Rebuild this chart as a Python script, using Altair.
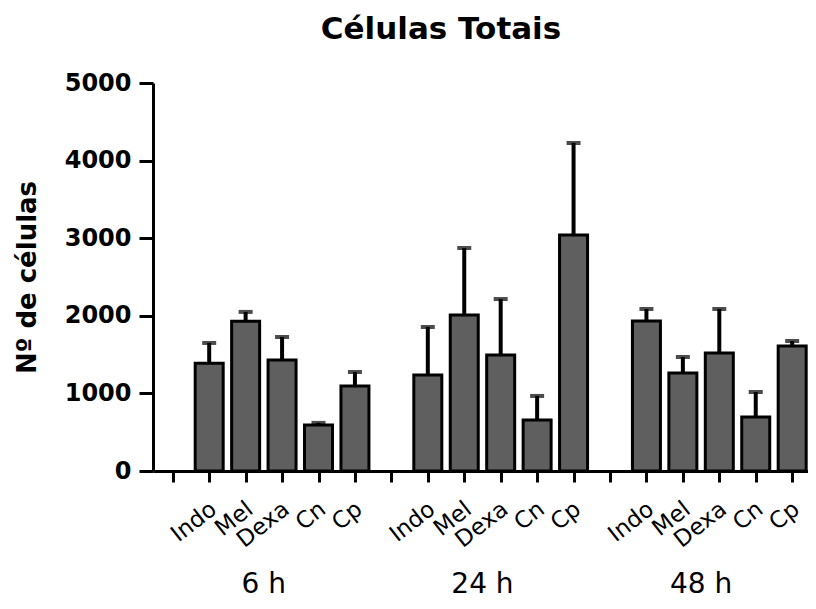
import json
import altair as alt
import pandas as pd

groups = ["6 h", "24 h", "48 h"]
treatments = ["Indo", "Mel", "Dexa", "Cn", "Cp"]
means_6h = [1390, 1930, 1430, 593, 1095]
errs_6h = [260, 120, 297, 27, 181]
means_24h = [1237, 2010, 1495, 657, 3041]
errs_24h = [619, 864, 721, 310, 1186]
means_48h = [1933, 1263, 1521, 696, 1611]
errs_48h = [155, 206, 567, 322, 64]
y_ticks = [0, 1000, 2000, 3000, 4000, 5000]
title_text = ["Células Totais"]

rows = []
for g, (m, e) in enumerate(zip([means_6h, means_24h, means_48h],
                               [errs_6h, errs_24h, errs_48h])):
    for t, name in enumerate(treatments):
        rows.append({"group": groups[g], "treatment": name,
                     "slot": g * 6 + t + 1, "mean": m[t], "top": m[t] + e[t]})
df = pd.DataFrame(rows)
grp_df = pd.DataFrame({"group": groups,
                       "center": [g * 6 + 2.5 for g in range(len(groups))]})
title_df = pd.DataFrame({"title": title_text})

W, H = 655, 388
x_scale = alt.Scale(domain=[-0.405, 17.297], nice=False, zero=False)
y_scale = alt.Scale(domain=[0, 5000], nice=False)

label_list = json.dumps([""] + treatments)
x_axis = alt.Axis(values=list(range(18)), labelExpr=f"{label_list}[datum.value % 6]",
                  labelAngle=-38, labelAlign="right", labelBaseline="middle",
                  labelPadding=24, labelOffset=4, labelOverlap=False, labelFlush=False,
                  labelBound=False,
                  labelFont="DejaVu Sans", labelFontSize=23, labelColor="black",
                  tickSize=11, tickWidth=3, tickColor="black",
                  domainWidth=3, domainColor="black", grid=False, title=None)
y_axis = alt.Axis(values=y_ticks, format="d", tickSize=14, tickWidth=3, tickColor="black",
                  domainWidth=3, domainColor="black", grid=False,
                  labelFont="DejaVu Sans", labelFontSize=24, labelFontWeight="bold",
                  labelColor="black", labelPadding=8, labelOverlap=False, labelFlush=False,
                  title="Nº de células", titleFont="DejaVu Sans", titleFontSize=26,
                  titleFontWeight="bold", titleColor="black", titleAngle=-90,
                  titleBaseline="alphabetic", titleAlign="center", titleX=-118, titleY=H / 2)

base = alt.Chart(df)
bars = base.mark_bar(size=28, fill="#5f5f5f", stroke="black", strokeWidth=3).encode(
    x=alt.X("slot:Q", scale=x_scale, axis=x_axis),
    y=alt.Y("mean:Q", scale=y_scale, axis=y_axis),
)
err = base.mark_rule(strokeWidth=4, color="black").encode(
    x=alt.X("slot:Q", scale=x_scale, axis=x_axis),
    y=alt.Y("mean:Q", scale=y_scale, axis=y_axis), y2="top:Q")
caps = base.mark_tick(orient="horizontal", size=14, thickness=4, color="black").encode(
    x=alt.X("slot:Q", scale=x_scale, axis=x_axis),
    y=alt.Y("top:Q", scale=y_scale, axis=y_axis))
glabels = alt.Chart(grp_df).mark_text(font="DejaVu Sans", fontSize=28, baseline="alphabetic",
                                      align="center", color="black").encode(
    x=alt.X("center:Q", scale=x_scale, axis=x_axis), y=alt.value(H + 122), text="group:N")
title = alt.Chart(title_df).mark_text(font="DejaVu Sans", fontSize=31, fontWeight="bold",
                                      baseline="alphabetic", align="center",
                                      color="black").encode(
    x=alt.value(288), y=alt.value(-44), text="title:N")

chart = alt.layer(bars, err, caps, glabels, title).properties(
    width=W, height=H,
    autosize=alt.AutoSizeParams(type="none"),
    padding={"left": 145, "top": 75, "right": 0, "bottom": 130},
).configure(background="white").configure_view(strokeWidth=0, stroke="transparent")

chart.save("out.html", embed_options={"renderer": "svg", "actions": False})
